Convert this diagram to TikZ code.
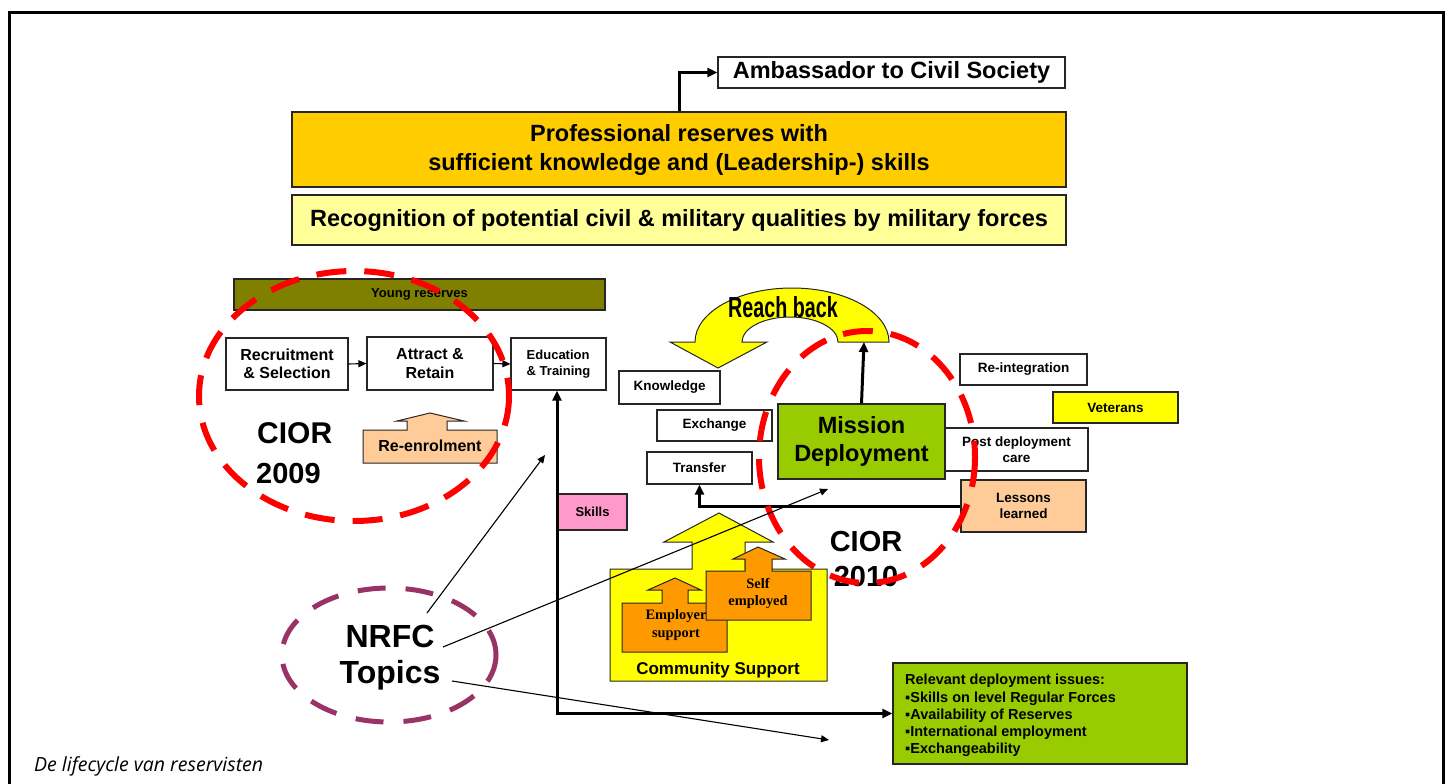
\documentclass[tikz,border=0pt]{standalone}
\usepackage{fontspec}
\setmainfont{Liberation Sans}
\newfontfamily\serifb{Liberation Serif}
\newfontfamily\capfont{Open Sans}
\usetikzlibrary{arrows.meta}
\definecolor{profc}{HTML}{FFCC00}
\definecolor{recogc}{HTML}{FFFF99}
\definecolor{olivec}{HTML}{808000}
\definecolor{peachc}{HTML}{FFCC99}
\definecolor{pinkc}{HTML}{FF99CC}
\definecolor{greenc}{HTML}{99CC00}
\definecolor{yellowc}{HTML}{FFFF00}
\definecolor{orangec}{HTML}{FF9900}
\definecolor{redc}{HTML}{FF0000}
\definecolor{purplec}{HTML}{993366}
\newcommand\fz[2]{\fontsize{#1}{#2}\selectfont\bfseries}
\tikzset{
  box/.style={draw=black!85, line width=1.2pt, inner sep=0pt, align=center, fill=white},
  shapeline/.style={draw=black!85, line width=1pt},
  thickarrow/.style={line width=3pt, -{Triangle[length=10pt,width=9pt]}},
  thickboth/.style={line width=3pt, {Triangle[length=10pt,width=9pt]}-{Triangle[length=10pt,width=9pt]}},
  thinarrow/.style={line width=1.1pt, -{Triangle[length=8pt,width=7pt]}},
  reddash/.style={draw=redc, line width=6pt, dash pattern=on 30pt off 18pt},
  purpledash/.style={draw=purplec, line width=5pt, dash pattern=on 28pt off 20pt},
  plain/.style={inner sep=0pt, align=center}
}
\begin{document}
\begin{tikzpicture}[x=1pt,y=-1pt]
\useasboundingbox (0,0) rectangle (1453,784);
% frame
\draw[line width=3pt] (9.5,790) -- (9.5,12.5) -- (1443.5,12.5) -- (1443.5,790);

% top boxes
\node[box, minimum width=347pt, minimum height=31pt, font=\fz{23.5}{28}] (amb) at (891.5,72.5) {Ambassador to Civil Society};
\node[box, fill=profc, minimum width=774pt, minimum height=75pt, font=\fz{23.5}{29}] (prof) at (679,149.5)
  {Professional reserves with\\ sufficient knowledge and (Leadership-) skills};
\node[box, fill=recogc, minimum width=774pt, minimum height=50pt, font=\fz{23.5}{28}] (recog) at (679,220)
  {Recognition of potential civil \& military qualities by military forces};
\draw[thickarrow] (prof.north) |- (amb.west);

% left group
\node[box, fill=olivec, minimum width=371pt, minimum height=31pt, font=\fz{13}{15}] (young) at (419.5,294.5) {Young reserves};
\node[box, minimum width=122pt, minimum height=52pt, font=\fz{16}{18}] (recr) at (287,364) {Recruitment\\ \& Selection};
\node[box, minimum width=126pt, minimum height=53pt, font=\fz{16}{19}] (attr) at (430,363.5) {Attract \&\\ Retain};
\node[box, minimum width=95pt, minimum height=52pt, align=left, font=\fz{13}{16}] (edu) at (558.5,364) {Education\\ \& Training};
\draw[thinarrow] (recr.east) -- (attr.west);
\draw[thinarrow] (attr.east) -- (edu.west);

\path[shapeline, fill=peachc] (363,463) -- (363,430) -- (407,430) -- (407,421) -- (397,421) -- (430,413)
  -- (464,421) -- (447,421) -- (447,430) -- (497,430) -- (497,463) -- cycle;
\node[plain, font=\fz{16}{18}] (reenr) at (430,446) {Re-enrolment};

\node[plain, anchor=base west, font=\fz{30}{32}] (cior9a) at (257,443) {CIOR};
\node[plain, anchor=base west, font=\fz{29}{32}] (cior9b) at (256,483) {2009};

% skills
\node[box, fill=pinkc, minimum width=69pt, minimum height=36pt, font=\fz{13}{15}] (skills) at (592.5,512) {Skills};

% right group
\path[shapeline, fill=yellowc] (718,368) -- (767,342) -- (742,342)
  arc[start angle=180, end angle=360, x radius=48, y radius=25] -- (889,342)
  arc[start angle=360, end angle=180, x radius=97, y radius=54] -- (670,342) -- cycle;
\node[plain, font=\fz{29}{30}] (reach) at (783,307) {\scalebox{0.68}[1]{Reach back}};
\coordinate (rbend) at (864,342);

\node[box, minimum width=101pt, minimum height=33pt, font=\fz{13.5}{16}] (know) at (669.5,387.5) {Knowledge};
\node[box, minimum width=115pt, minimum height=31pt, font=\fz{13.5}{16}] (exch) at (714.5,425.5) {Exchange};
\node[box, minimum width=105pt, minimum height=32pt, font=\fz{13.5}{16}] (trans) at (699.5,468) {Transfer};
\node[box, minimum width=127pt, minimum height=31pt, font=\fz{13.5}{16}] (reint) at (1023.5,369.5) {Re-integration};
\node[box, fill=yellowc, minimum width=125pt, minimum height=31pt, font=\fz{13.5}{16}] (vet) at (1115.5,407.5) {Veterans};
\node[box, minimum width=143pt, minimum height=43pt, font=\fz{13.5}{16}] (post) at (1016.5,449.5) {Post deployment\\ care};
\node[box, fill=greenc, minimum width=167pt, minimum height=75pt, font=\fz{23.5}{28}] (mission) at (861.5,441.5) {Mission\\ Deployment};
\node[box, fill=peachc, minimum width=125pt, minimum height=52pt, font=\fz{13.5}{16}] (lessons) at (1023.5,506) {Lessons\\ learned};

\draw[thickarrow] (lessons.west) -| (trans.south);
\draw[thickarrow] (mission.north) -- (rbend);

% community support
\path[shapeline, fill=yellowc] (610,681) -- (610,569) -- (692,569) -- (692,542) -- (664,542) -- (719,513)
  -- (773,542) -- (745,542) -- (745,569) -- (827,569) -- (827,681) -- cycle;
\node[plain, font=\fz{17}{20}] (comm) at (718,670) {Community Support};
\path[shapeline, fill=orangec] (622,652) -- (622,603) -- (662,603) -- (662,590) -- (648,590) -- (675,578)
  -- (701,590) -- (688,590) -- (688,603) -- (727,603) -- (727,652) -- cycle;
\node[plain, font=\serifb\fontsize{14.4}{18}\selectfont\bfseries] (empl) at (676,625) {Employer\\ support};
\path[shapeline, fill=orangec] (706,620) -- (706,571) -- (745,571) -- (745,559) -- (733,559) -- (758,547)
  -- (785,559) -- (772,559) -- (772,571) -- (811,571) -- (811,620) -- cycle;
\node[plain, font=\serifb\fontsize{14.4}{17}\selectfont\bfseries] (self) at (758,593) {Self\\ employed};

\node[plain, font=\fz{29}{35}] (cior10) at (866,559) {CIOR\\ 2010};

% relevant box
\node[box, fill=greenc, minimum width=294pt, minimum height=101pt] (relev) at (1040,713.5) {};
\node[plain, anchor=west, align=left, font=\fz{14.5}{17.2}] (relevt) at (905,715.5) {Relevant deployment issues:\\ ▪Skills on level Regular Forces\\ ▪Availability of Reserves\\ ▪International employment\\ ▪Exchangeability};

\draw[thickboth] (edu.south -| 557,0) |- (relev.west);

% dashed ellipses
\draw[reddash] (354,396) ellipse[x radius=155, y radius=125];
\draw[reddash] (867,457) ellipse[x radius=108, y radius=126];

% NRFC
\node[plain, font=\fz{32}{36}] (nrfc) at (390,658) {NRFC\\ Topics};
\draw[purpledash] (389,655) ellipse[x radius=107, y radius=67];
\coordinate (n1) at (427,613);
\coordinate (n2) at (443,647);
\coordinate (n3) at (452,681);
\coordinate (e1) at (545,455);
\coordinate (e2) at (828,489);
\coordinate (e3) at (829,740);
\draw[thinarrow] (n1) -- (e1);
\draw[thinarrow] (n2) -- (e2);
\draw[thinarrow] (n3) -- (e3);

% caption
\node[plain, anchor=base west, font=\capfont\itshape\fontsize{19.5}{22}\selectfont] (cap) at (34,771) {De lifecycle van reservisten};
\end{tikzpicture}
\end{document}
